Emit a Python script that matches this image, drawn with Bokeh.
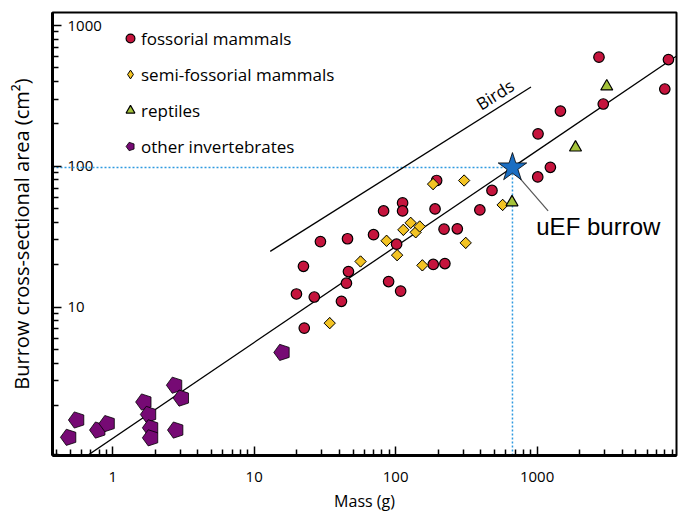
import math
from bokeh.plotting import figure
from bokeh.models import Range1d, FixedTicker, Label, Legend, LegendItem
from bokeh.core.properties import value
from bokeh.embed import file_html
from bokeh.resources import INLINE

# ---------------- data ----------------
fossorial_mass = [22.3, 29.4, 45.7, 69.8, 82.2, 112, 112, 101.6, 46.4, 44.9, 19.9, 26.6,
                  41.4, 89.2, 108.5, 22.6, 195, 190, 480, 394, 220, 273, 184.5, 223,
                  1011, 1242, 1016, 1463, 2938, 2740, 8490, 8000]
fossorial_area = [19.5, 29.2, 30.6, 32.7, 48.2, 55.0, 48.2, 28.0, 17.9, 14.8, 12.4, 11.8,
                  11.0, 15.2, 13.0, 7.1, 79.3, 49.8, 67.4, 49.0, 35.8, 36.0, 20.1, 20.4,
                  84.1, 98.4, 170, 247, 277, 596, 573, 354]

semi_mass = [34.2, 56.5, 86.3, 102.5, 113.4, 127.7, 138.6, 148, 154.6, 184, 305, 313, 571]
semi_area = [7.7, 21.1, 29.6, 23.4, 35.4, 39.7, 34.0, 37.4, 19.8, 74.8, 79.3, 28.6, 53.2]

reptile_mass = [665, 1870, 3110]
reptile_area = [55.5, 136, 369]

invert_mass = [0.49, 0.558, 0.787, 0.917, 1.667, 1.80, 1.86, 1.86, 2.75, 3.07, 2.80, 15.8]
invert_area = [1.19, 1.58, 1.34, 1.49, 2.12, 1.73, 1.39, 1.18, 2.79, 2.26, 1.34, 4.77]

uef_mass = 670
uef_area = 98

fit_coef = 1.17
fit_exp = 0.681
fit_mass = [0.5, 9700]
fit_area = [fit_coef * m ** fit_exp for m in fit_mass]

birds_mass = [12.98, 906]
birds_area = [24.9, 366]

pointer_mass = [710, 1197]
pointer_area = [88.5, 48.2]

x_lim = [0.375, 9680]
y_lim = [0.884, 1237]
x_major = [1, 10, 100, 1000]
x_tick_labels = ["1", "10", "100", "1000"]
y_major = [10, 100, 1000]
y_tick_labels = ["10", "100", "1000"]

series_labels = ["fossorial mammals", "semi-fossorial mammals", "reptiles", "other invertebrates"]

RED = "#C5143D"
YELLOW = "#F3C323"
GREEN = "#A4C23A"
PURPLE = "#760A74"
STAR = "#1B6EC2"
DOT = "#2F9AE0"
FONT = "Open Sans"


def minor_ticks(lo, hi):
    out = []
    for k in range(-2, 5):
        for m in range(2, 10):
            v = m * 10 ** k
            if lo <= v <= hi:
                out.append(v)
    return out


p = figure(width=678, height=514, x_axis_type="log", y_axis_type="log",
           x_range=Range1d(*x_lim), y_range=Range1d(*y_lim),
           output_backend="svg", toolbar_location=None,
           min_border_left=52, min_border_right=2, min_border_top=12, min_border_bottom=58)
p.grid.visible = False
p.outline_line_color = "black"
p.outline_line_width = 2
p.background_fill_color = "white"

p.xaxis.ticker = FixedTicker(ticks=x_major, minor_ticks=minor_ticks(*x_lim))
p.yaxis.ticker = FixedTicker(ticks=y_major, minor_ticks=minor_ticks(*y_lim))
p.xaxis.major_label_overrides = {float(t): s for t, s in zip(x_major, x_tick_labels)}
p.yaxis.major_label_overrides = {float(t): " " for t in y_major}

for ax in (p.xaxis[0], p.yaxis[0]):
    ax.axis_line_width = 3
    ax.axis_line_color = "black"
    ax.major_tick_in = 9
    ax.major_tick_out = 0
    ax.minor_tick_in = 6
    ax.minor_tick_out = 0
    ax.major_tick_line_width = 1.5
    ax.minor_tick_line_width = 1.5
    ax.major_tick_line_color = "black"
    ax.minor_tick_line_color = "black"
    ax.axis_label_text_font = FONT
    ax.axis_label_text_font_style = "normal"
    ax.axis_label_text_color = "black"
    ax.major_label_text_font = FONT
    ax.major_label_text_color = "black"

p.xaxis.major_label_text_font_size = "15px"
p.xaxis.major_label_standoff = 16
p.xaxis.axis_label = "Mass (g)"
p.xaxis.axis_label_text_font_size = "16px"
p.xaxis.axis_label_standoff = 5
p.yaxis.major_label_text_font_size = "2px"
p.yaxis.major_label_standoff = 0
p.yaxis.axis_label = "Burrow cross-sectional area (cm²)"
p.yaxis.axis_label_text_font_size = "20px"
p.yaxis.axis_label_standoff = 14

# y tick labels drawn inside the frame
p.text(x=[x_lim[0]] * len(y_major), y=y_major, text=y_tick_labels, x_offset=15,
       text_align="left", text_baseline="middle", text_font=value(FONT),
       text_font_size="15px", text_color="black")

# guide lines
p.line([x_lim[0], uef_mass], [uef_area, uef_area], line_color=DOT, line_width=1.5, line_dash="2 2")
p.line([uef_mass, uef_mass], [y_lim[0], uef_area], line_color=DOT, line_width=1.5, line_dash="2 2")
p.line(fit_mass, fit_area, line_color="black", line_width=1.3)
p.line(birds_mass, birds_area, line_color="black", line_width=1.3)
p.line(pointer_mass, pointer_area, line_color="#555555", line_width=1.2)

r_inv = p.ngon(x=invert_mass, y=invert_area, radius=8.5, radius_units="screen", n=5,
               angle=math.pi / 2, fill_color=PURPLE, line_color="black", line_width=0.8)
r_fos = p.scatter(fossorial_mass, fossorial_area, marker="circle", size=10.5,
                  fill_color=RED, line_color="black", line_width=1.2)
# narrow diamonds (used as legend key) under square-ish rotated squares
r_semi = p.scatter(semi_mass, semi_area, marker="diamond", size=11,
                   fill_color=YELLOW, line_color="black", line_width=1)
p.scatter(semi_mass, semi_area, marker="square", angle=math.pi / 4, size=8,
          fill_color=YELLOW, line_color="black", line_width=1)
r_rep = p.scatter(reptile_mass, reptile_area, marker="triangle", size=12,
                  fill_color=GREEN, line_color="black", line_width=1.2)
p.scatter([uef_mass], [uef_area], marker="star", size=30, fill_color=STAR,
          line_color="black", line_width=0.8)

legend = Legend(items=[LegendItem(label=series_labels[0], renderers=[r_fos]),
                       LegendItem(label=series_labels[1], renderers=[r_semi]),
                       LegendItem(label=series_labels[2], renderers=[r_rep]),
                       LegendItem(label=series_labels[3], renderers=[r_inv])],
                location=(67, 296), border_line_color=None, background_fill_alpha=0,
                label_text_font=FONT, label_text_font_size="17px", label_text_color="black",
                glyph_width=22, glyph_height=26, label_height=20, spacing=10,
                padding=0, margin=0, label_standoff=0)
p.add_layout(legend)

p.add_layout(Label(x=504, y=323, text="Birds", angle=0.56, text_align="center",
                   text_baseline="middle", text_font=FONT, text_font_size="17px",
                   text_color="black"))
p.add_layout(Label(x=2710, y=37.1, text="uEF burrow", text_align="center",
                   text_baseline="middle", text_font="Liberation Sans",
                   text_font_size="24px", text_color="black"))

open("out.html", "w").write(file_html(p, INLINE))
